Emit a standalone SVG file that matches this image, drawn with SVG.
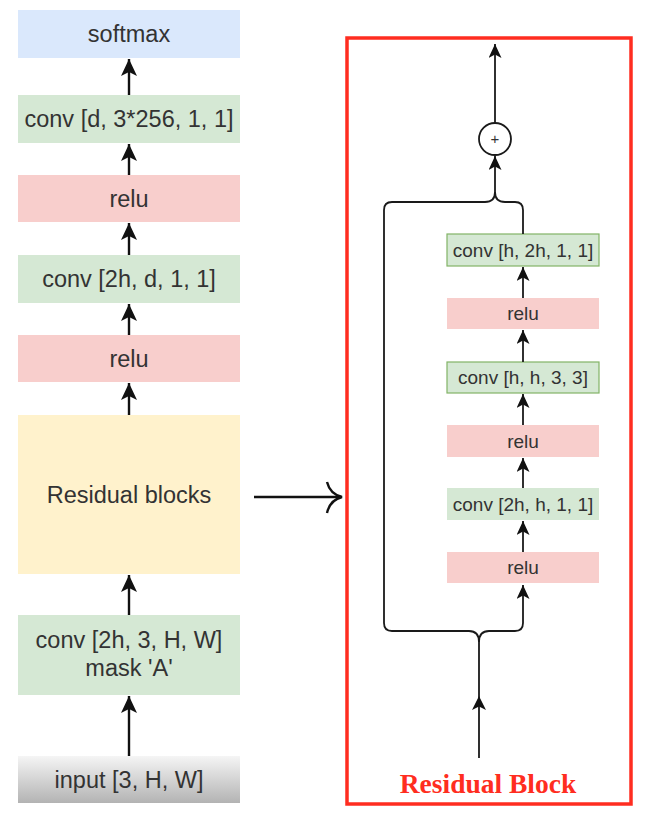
<svg xmlns="http://www.w3.org/2000/svg" width="652" height="826" viewBox="0 0 652 826">
<style>
.t{font-family:"Liberation Sans",Arial,sans-serif;fill:#333333;text-anchor:middle}
.L{font-size:23.5px}
.R{font-size:19px}
.ln{fill:none;stroke:#111111;stroke-width:2.4}
.lnr{fill:none;stroke:#1a1a1a;stroke-width:1.8}
.green{fill:#d5e8d4}
.red{fill:#f8cecc}
</style>
<defs>
<linearGradient id="gin" x1="0" y1="0" x2="0" y2="1">
<stop offset="0" stop-color="#f5f5f5"/>
<stop offset="1" stop-color="#b3b3b3"/>
</linearGradient>
<marker id="ab" markerUnits="userSpaceOnUse" viewBox="0 0 17 16" refX="17" refY="8" markerWidth="17" markerHeight="16" orient="auto">
<path d="M0,0 L17,8 L0,16 L4,8 Z" fill="#111"/>
</marker>
<marker id="as" markerUnits="userSpaceOnUse" viewBox="0 0 14 13" refX="14" refY="6.5" markerWidth="14" markerHeight="13" orient="auto">
<path d="M0,0 L14,6.5 L0,13 L3.5,6.5 Z" fill="#111"/>
</marker>
</defs>
<rect width="652" height="826" fill="#ffffff"/>

<g id="softmax"><rect x="18" y="10" width="222" height="48" fill="#dae8fc"/><text class="t L" x="129" y="42">softmax</text></g>
<g id="conv-d"><rect class="green" x="18" y="95" width="222" height="48"/><text class="t L" x="129" y="127">conv [d, 3*256, 1, 1]</text></g>
<g id="relu-1"><rect class="red" x="18" y="175" width="222" height="47"/><text class="t L" x="129" y="207">relu</text></g>
<g id="conv-2h-d"><rect class="green" x="18" y="255" width="222" height="48"/><text class="t L" x="129" y="287">conv [2h, d, 1, 1]</text></g>
<g id="relu-2"><rect class="red" x="18" y="335" width="222" height="47"/><text class="t L" x="129" y="367">relu</text></g>
<g id="residual-blocks"><rect x="18" y="415" width="222" height="159" fill="#fff2cc"/><text class="t L" x="129" y="503">Residual blocks</text></g>
<g id="conv-mask"><rect class="green" x="18" y="615" width="222" height="80"/><text class="t L" x="129" y="648">conv [2h, 3, H, W]</text><text class="t L" x="129" y="676">mask 'A'</text></g>
<g id="input"><rect x="18" y="756" width="222" height="47" fill="url(#gin)"/><text class="t L" x="129" y="788">input [3, H, W]</text></g>

<g id="residual-block-frame"><rect x="347" y="38" width="284" height="766" fill="none" stroke="#ff2d20" stroke-width="3.5"/><text x="488" y="793" font-family="'Liberation Serif','Times New Roman',serif" font-weight="bold" font-size="27.5" fill="#ff2d20" text-anchor="middle">Residual Block</text></g>
<g id="plus"><circle cx="495" cy="139" r="16" fill="#ffffff" stroke="#1a1a1a" stroke-width="1.8"/><text class="t" x="495" y="144" font-size="15">+</text></g>
<g id="r-conv-h-2h"><rect class="green" x="447" y="234" width="152" height="32" stroke="#82b366" stroke-width="1.2"/><text class="t R" x="523" y="257">conv [h, 2h, 1, 1]</text></g>
<g id="r-relu-1"><rect class="red" x="447" y="298" width="152" height="31"/><text class="t R" x="523" y="320">relu</text></g>
<g id="r-conv-h-h"><rect class="green" x="447" y="362" width="152" height="31" stroke="#82b366" stroke-width="1.2"/><text class="t R" x="523" y="384">conv [h, h, 3, 3]</text></g>
<g id="r-relu-2"><rect class="red" x="447" y="425" width="152" height="32"/><text class="t R" x="523" y="448">relu</text></g>
<g id="r-conv-2h-h"><rect class="green" x="447" y="488" width="152" height="32"/><text class="t R" x="523" y="511">conv [2h, h, 1, 1]</text></g>
<g id="r-relu-3"><rect class="red" x="447" y="552" width="152" height="31"/><text class="t R" x="523" y="574">relu</text></g>

<g id="connectors">
<line class="ln" x1="129" y1="95" x2="129" y2="59" marker-end="url(#ab)"/>
<line class="ln" x1="129" y1="175" x2="129" y2="144" marker-end="url(#ab)"/>
<line class="ln" x1="129" y1="255" x2="129" y2="223" marker-end="url(#ab)"/>
<line class="ln" x1="129" y1="335" x2="129" y2="304" marker-end="url(#ab)"/>
<line class="ln" x1="129" y1="415" x2="129" y2="383" marker-end="url(#ab)"/>
<line class="ln" x1="129" y1="615" x2="129" y2="575" marker-end="url(#ab)"/>
<line class="ln" x1="129" y1="756" x2="129" y2="696" marker-end="url(#ab)"/>
<line class="ln" x1="254" y1="497" x2="341" y2="497"/>
<path class="ln" d="M327,482 Q330,494 342,497 Q330,500 327,513"/>

<line class="lnr" x1="495" y1="123" x2="495" y2="44" marker-end="url(#as)"/>
<path class="lnr" d="M479,758 L479,642 Q479,631 469,631 L392,631 Q384,631 384,623 L384,210 Q384,202 392,202 L485,202 Q495,202 495,192 L495,156" marker-end="url(#as)"/>
<path class="lnr" d="M479,642 Q479,631 489,631 L515,631 Q523,631 523,623 L523,585" marker-end="url(#as)"/>
<path class="lnr" d="M523,234 L523,210 Q523,202 515,202 L505,202 Q495,202 495,192"/>
<path d="M479,696 L486,710 L479,706.5 L472,710 Z" fill="#111"/>
<line class="lnr" x1="523" y1="552" x2="523" y2="521" marker-end="url(#as)"/>
<line class="lnr" x1="523" y1="488" x2="523" y2="458" marker-end="url(#as)"/>
<line class="lnr" x1="523" y1="425" x2="523" y2="394" marker-end="url(#as)"/>
<line class="lnr" x1="523" y1="362" x2="523" y2="330" marker-end="url(#as)"/>
<line class="lnr" x1="523" y1="298" x2="523" y2="267" marker-end="url(#as)"/>
</g>
</svg>
